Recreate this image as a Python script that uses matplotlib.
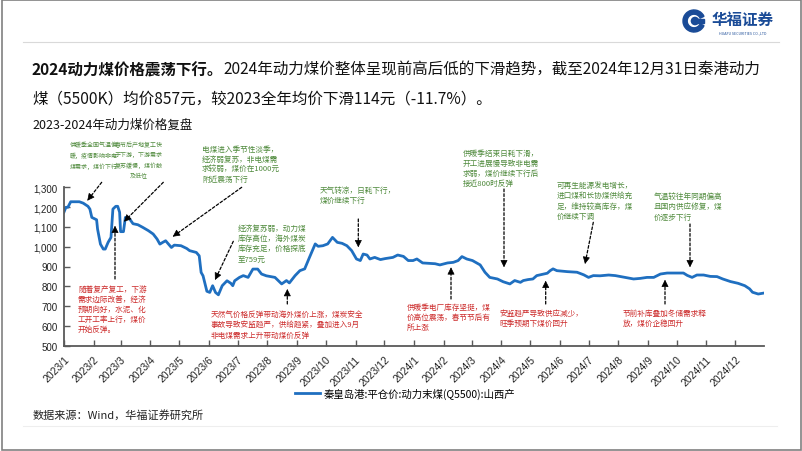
import numpy as np
import pandas as pd
import matplotlib
matplotlib.use('Agg')
import matplotlib.pyplot as plt
from matplotlib.patches import Circle, Rectangle, Wedge

plt.rcParams['font.family'] = ['Noto Sans CJK SC', 'DejaVu Sans']

W, H = 802, 452

# 秦皇岛港 平仓价 动力末煤(Q5500) 山西产, 元/吨
dates = [
    '2023-01-01', '2023-01-03', '2023-01-05', '2023-01-08', '2023-01-17', '2023-01-21',
    '2023-01-26', '2023-01-28', '2023-01-30', '2023-02-04', '2023-02-05', '2023-02-08',
    '2023-02-11', '2023-02-13', '2023-02-16', '2023-02-19', '2023-02-21', '2023-02-24',
    '2023-02-26', '2023-02-28', '2023-03-01', '2023-03-04', '2023-03-06', '2023-03-08',
    '2023-03-10', '2023-03-14', '2023-03-19', '2023-03-24', '2023-03-30', '2023-04-04',
    '2023-04-08', '2023-04-11', '2023-04-14', '2023-04-17', '2023-04-20', '2023-04-23',
    '2023-04-26', '2023-05-03', '2023-05-09', '2023-05-12', '2023-05-19', '2023-05-22',
    '2023-05-24', '2023-05-26', '2023-05-30', '2023-06-02', '2023-06-05', '2023-06-08',
    '2023-06-11', '2023-06-15', '2023-06-20', '2023-06-24', '2023-06-26', '2023-06-28',
    '2023-07-03', '2023-07-07', '2023-07-12', '2023-07-17', '2023-07-22', '2023-07-26',
    '2023-07-31', '2023-08-09', '2023-08-16', '2023-08-21', '2023-08-24', '2023-08-30',
    '2023-09-04', '2023-09-09', '2023-09-14', '2023-09-20', '2023-09-23', '2023-09-28',
    '2023-10-03', '2023-10-08', '2023-10-13', '2023-10-18', '2023-10-23', '2023-10-28',
    '2023-11-02', '2023-11-06', '2023-11-09', '2023-11-13', '2023-11-16', '2023-11-21',
    '2023-11-27', '2023-12-02', '2023-12-10', '2023-12-15', '2023-12-21', '2023-12-26',
    '2023-12-31', '2024-01-04', '2024-01-10', '2024-01-23', '2024-01-28', '2024-02-05',
    '2024-02-11', '2024-02-16', '2024-02-20', '2024-02-25', '2024-03-02', '2024-03-10',
    '2024-03-15', '2024-03-20', '2024-03-28', '2024-04-03', '2024-04-10', '2024-04-15',
    '2024-04-21', '2024-04-24', '2024-04-29', '2024-05-04', '2024-05-08', '2024-05-15',
    '2024-05-19', '2024-05-22', '2024-05-25', '2024-05-29', '2024-06-09', '2024-06-19',
    '2024-06-26', '2024-07-01', '2024-07-06', '2024-07-13', '2024-07-22', '2024-07-29',
    '2024-08-08', '2024-08-17', '2024-08-24', '2024-08-31', '2024-09-07', '2024-09-14',
    '2024-09-21', '2024-10-08', '2024-10-12', '2024-10-17', '2024-10-22', '2024-10-29',
    '2024-11-05', '2024-11-12', '2024-11-18', '2024-11-26', '2024-12-04', '2024-12-11',
    '2024-12-16', '2024-12-19', '2024-12-25', '2024-12-31',
]
prices = [
    1175, 1199, 1199, 1227, 1227, 1220,
    1204, 1190, 1148, 1136, 1089, 1013,
    988, 988, 1022, 1047, 1190, 1204,
    1204, 1174, 1076, 1076, 1148, 1148,
    1143, 1116, 1111, 1098, 1081, 1064,
    1039, 1013, 1022, 1030, 1013, 996,
    1008, 1005, 991, 980, 971, 954,
    870, 853, 775, 769, 803, 769,
    757, 803, 828, 815, 803, 828,
    845, 854, 845, 887, 887, 862,
    853, 845, 812, 829, 817, 854,
    879, 888, 946, 1014, 1002, 1005,
    1014, 1047, 1022, 1017, 1005, 980,
    938, 930, 963, 958, 938, 946,
    935, 940, 946, 958, 951, 930,
    930, 938, 918, 914, 908, 918,
    921, 930, 950, 938, 930, 908,
    871, 845, 837, 823, 812, 829,
    820, 829, 834, 837, 854, 862,
    866, 879, 888, 879, 874, 871,
    858, 845, 854, 853, 857, 854,
    845, 837, 840, 845, 845, 862,
    867, 867, 855, 845, 857, 857,
    850, 849, 837, 824, 815, 803,
    787, 770, 761, 766,
]
series_name = '秦皇岛港:平仓价:动力末煤(Q5500):山西产'
month_ticks = pd.date_range('2023-01-01', '2024-12-01', freq='MS')
y_ticks = list(range(500, 1301, 100))

GREEN = '#4f8a3c'
RED = '#cc2a2a'

fig = plt.figure(figsize=(W / 100, H / 100), dpi=100)
fig.patch.set_facecolor('white')

# main chart
ax = fig.add_axes([64 / W, 1 - 346.7 / H, 700 / W, 158.4 / H])
ax.plot(pd.to_datetime(dates), prices, color='#1f6fc0', lw=2.0,
        solid_joinstyle='round', label=series_name)
ax.set_xlim(pd.Timestamp('2023-01-01'), pd.Timestamp('2024-12-31'))
ax.set_ylim(500, 1300)
ax.set_xticks(month_ticks)
ax.set_xticklabels([f'{d.year}/{d.month}' for d in month_ticks], rotation=45,
                   ha='right', va='top', rotation_mode='anchor',
                   fontsize=7.5, family='Liberation Sans', color='#222222')
ax.set_yticks(y_ticks)
ax.set_yticklabels([f'{v:,}' for v in y_ticks], fontsize=7,
                   family='Liberation Sans', color='#222222')
for s in ['top', 'right']:
    ax.spines[s].set_visible(False)
for s in ['left', 'bottom']:
    ax.spines[s].set_color('#595959')
    ax.spines[s].set_linewidth(1.3)
ax.tick_params(direction='in', length=4, width=1, color='#595959')
ax.tick_params(axis='x', pad=6)
ax.tick_params(axis='y', pad=4.5)
ax.legend(loc='center', bbox_to_anchor=(405 / W, 1 - 394 / H),
          bbox_transform=fig.transFigure, frameon=False, handlelength=2.4,
          handletextpad=0.4, prop={'size': 7.5})

# overlay in pixel coordinates for texts, arrows and decorations
ov = fig.add_axes([0, 0, 1, 1], zorder=5)
ov.set_xlim(0, W)
ov.set_ylim(H, 0)
ov.axis('off')
ov.patch.set_alpha(0)

# frame and rules
ov.add_patch(Rectangle((1.5, 1), 799, 450, fill=False, ec='#808080', lw=1.2))
ov.plot([23, 779], [43, 43], color='#d9d9d9', lw=0.8)
ov.plot([23, 777], [427, 427], color='#eeeeee', lw=0.8)

# logo
ov.add_patch(Wedge((694, 22), 11, 25, 335, width=4.2, color='#1a4b97'))
ov.add_patch(Circle((695, 22), 3.6, color='#1a4b97'))
ov.add_patch(Rectangle((695, 20.2), 9, 3.6, color='#1a4b97'))
ov.text(743, 20, '华福证券', fontsize=11.2, fontweight='bold', color='#1a4b97',
        ha='center', va='center')
ov.text(743, 33, 'HUAFU SECURITIES CO.,LTD', fontsize=2.6, color='#1a4b97',
        ha='center', va='center')

# heading: bold lead-in, then the rest of the line right after it
t1 = ov.text(32, 70, '2024动力煤价格震荡下行。', fontsize=11.2, fontweight='bold',
             color='#111111', va='center')
fig.canvas.draw()
bb = t1.get_window_extent(fig.canvas.get_renderer())
ov.text(bb.x1, 70,
        '2024年动力煤价整体呈现前高后低的下滑趋势，截至2024年12月31日秦港动力',
        fontsize=11.2, color='#111111', va='center')
ov.text(32, 99, '煤（5500K）均价857元，较2023全年均价下滑114元（-11.7%）。',
        fontsize=11.2, color='#111111', va='center')
ov.text(32, 125, '2023-2024年动力煤价格复盘', fontsize=9, color='#111111', va='center')
ov.text(33, 415, '数据来源：Wind，华福证券研究所', fontsize=8, color='#222222', va='center')


def note(x, y, s, color, size=5.5, ha='left', ls=1.37):
    ov.text(x, y, s, color=color, fontsize=size, ha=ha, va='top',
            linespacing=ls, multialignment=ha)


def arrow(x0, y0, x1, y1):
    # dashed shaft plus a solid head
    ov.annotate('', xy=(x1, y1), xytext=(x0, y0),
                arrowprops=dict(arrowstyle='-', ls=(0, (2.2, 1.6)), lw=0.9,
                                color='black', shrinkA=0, shrinkB=3))
    d = np.hypot(x1 - x0, y1 - y0)
    hx, hy = x1 - (x1 - x0) / d * 5, y1 - (y1 - y0) / d * 5
    ov.annotate('', xy=(x1, y1), xytext=(hx, hy),
                arrowprops=dict(arrowstyle='-|>', lw=0.5, color='black',
                                shrinkA=0, shrinkB=0, mutation_scale=11))


note(70, 142.5, '供暖季全国气温偏\n暖，疫情影响非电\n煤需求，煤价下行', GREEN, size=4.3, ls=1.75)
note(139, 142.5, '春节后产地复工快\n于下游，下游需求\n复苏缓慢，煤价触\n及低位', GREEN,
     size=4.3, ha='center', ls=1.75)
note(202, 145.7, '电煤进入季节性淡季，\n经济弱复苏，非电煤需\n求较弱，煤价在1000元\n附近震荡下行', GREEN)
note(238, 225, '经济复苏弱，动力煤\n库存高位，海外煤炭\n库存充足，价格探底\n至759元', GREEN)
note(320, 187, '天气转凉，日耗下行，\n煤价继续下行', GREEN)
note(463, 149.5, '供暖季结束日耗下滑，\n开工进展慢导致非电需\n求弱，煤价继续下行后\n接近800时反弹', GREEN)
note(557, 182, '可再生能源发电增长，\n进口煤和长协煤供给充\n足，维持较高库存，煤\n价继续下调', GREEN)
note(654, 193, '气温较往年同期偏高\n且国内供应修复，煤\n价逐步下行', GREEN)
note(78, 285.5, '随着复产复工，下游\n需求边际改善，经济\n预期向好，水泥、化\n工开工率上行，煤价\n开始反弹。', RED)
note(211, 311, '天然气价格反弹带动海外煤价上涨，煤炭安全\n事故导致安监趋严，供给趋紧，叠加进入9月\n非电煤需求上升带动煤价反弹', RED)
note(407, 303.7, '供暖季电厂库存坚挺，煤\n价高位震荡，春节节后有\n所上涨', RED)
note(499, 309.5, '安监趋严导致供应减少，\n旺季预期下煤价回升', RED)
note(622.7, 309.5, '节前补库叠加冬储需求释\n放，煤价企稳回升', RED)

arrow(101.7, 183.3, 87.3, 201.7)
arrow(163.3, 183.3, 124, 222.7)
arrow(241.7, 188.3, 172.7, 237.7)
arrow(233.3, 242.3, 215, 281)
arrow(358.3, 220, 358.3, 248.3)
arrow(504, 190, 504, 268.3)
arrow(593.3, 223.3, 585, 265)
arrow(690, 225, 690, 268.3)
arrow(115, 280, 115, 226.7)
arrow(287.3, 305, 287.3, 290)
arrow(451, 300, 451, 268.3)
arrow(545.7, 305, 545.7, 281.7)
arrow(665, 305, 665, 280.7)

fig.savefig('out.png', dpi=100)
